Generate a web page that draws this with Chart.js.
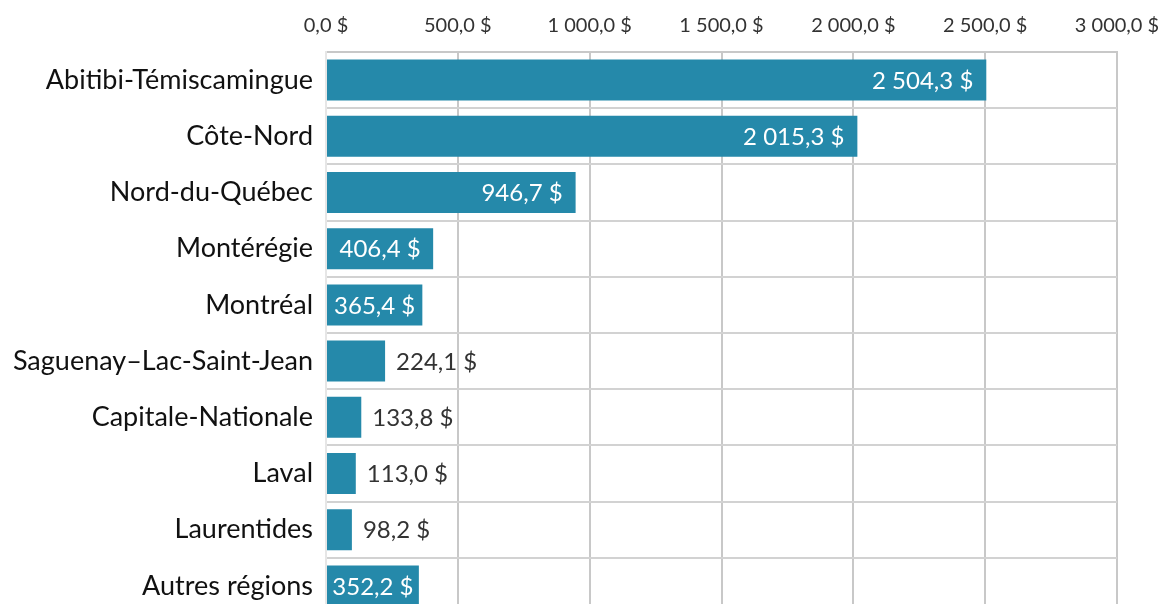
<!DOCTYPE html>
<html lang="fr">
<head>
<meta charset="utf-8">
<script src="https://cdn.jsdelivr.net/npm/chart.js@4"></script>
<style>
  html, body { margin: 0; padding: 0; background: #fff; overflow: hidden; }
  #wrap { width: 1164px; height: 614px; position: relative; }
</style>
</head>
<body>
<div id="wrap"><canvas id="regionChart"></canvas></div>
<script>
// Data
const regions = ['Abitibi-Témiscamingue', 'Côte-Nord', 'Nord-du-Québec', 'Montérégie', 'Montréal',
  'Saguenay–Lac-Saint-Jean', 'Capitale-Nationale', 'Laval', 'Laurentides', 'Autres régions'];
const amounts = [2504.3, 2015.3, 946.7, 406.4, 365.4, 224.1, 133.8, 113.0, 98.2, 352.2];
const tickValues = [0, 500, 1000, 1500, 2000, 2500, 3000];

// "2 504,3 $" style
function fmtMoney(v) {
  const parts = Number(v).toFixed(1).split('.');
  parts[0] = parts[0].replace(/\B(?=(\d{3})+(?!\d))/g, ' ');
  return parts[0] + ',' + parts[1] + ' $';
}

const FONT = 'Lato, "Noto Sans", sans-serif';

// value labels: inside the bar end when it fits, otherwise just after it
const barLabels = {
  id: 'barLabels',
  afterDatasetsDraw(chart) {
    const ctx = chart.ctx;
    const meta = chart.getDatasetMeta(0);
    ctx.save();
    ctx.font = '24px ' + FONT;
    ctx.textBaseline = 'middle';
    meta.data.forEach((bar, i) => {
      const v = amounts[i];
      const txt = fmtMoney(v);
      const w = ctx.measureText(txt).width;
      const barW = bar.x - bar.base;
      if (v > 300) {
        const pad = Math.min(13, (barW - w) / 2);
        ctx.fillStyle = '#ffffff';
        ctx.textAlign = 'right';
        ctx.fillText(txt, bar.x - pad, bar.y + 1);
      } else {
        ctx.fillStyle = '#333333';
        ctx.textAlign = 'left';
        ctx.fillText(txt, bar.x + 11, bar.y + 1);
      }
    });
    ctx.restore();
  }
};

const ctx = document.getElementById('regionChart').getContext('2d');
const regionChart = new Chart(ctx, {
  type: 'bar',
  data: {
    labels: regions,
    datasets: [{
      data: amounts,
      backgroundColor: '#2589aa',
      borderWidth: 0,
      barPercentage: 0.73,
      categoryPercentage: 1
    }]
  },
  options: {
    indexAxis: 'y',
    responsive: true,
    maintainAspectRatio: false,
    animation: false,
    layout: {
      padding: { top: 0, right: 47, bottom: 0, left: 0 }
    },
    plugins: {
      legend: { display: false },
      tooltip: { enabled: false }
    },
    scales: {
      x: {
        position: 'top',
        min: 0,
        max: 3000,
        afterBuildTicks: (scale) => {
          scale.ticks = tickValues.map(v => ({ value: v }));
        },
        afterFit: (scale) => {
          scale.height = 52;
          scale.paddingLeft = 0;
          scale.paddingRight = 0;
        },
        grid: {
          color: '#c8c8c8',
          lineWidth: 2,
          drawTicks: false
        },
        border: { color: '#c8c8c8', width: 2 },
        ticks: {
          padding: 14,
          color: '#333333',
          font: { family: FONT, size: 20 },
          maxRotation: 0,
          autoSkip: false,
          callback: (v) => fmtMoney(v)
        }
      },
      y: {
        afterFit: (scale) => {
          scale.width = 326;
          scale.paddingTop = 0;
          scale.paddingBottom = 0;
        },
        grid: {
          color: '#d2d2d2',
          lineWidth: 2,
          drawTicks: false
        },
        border: { color: '#e6e6e6', width: 2 },
        ticks: {
          padding: 13,
          color: '#111111',
          font: { family: FONT, size: 27 }
        }
      }
    }
  },
  plugins: [barLabels]
});
</script>
</body>
</html>
